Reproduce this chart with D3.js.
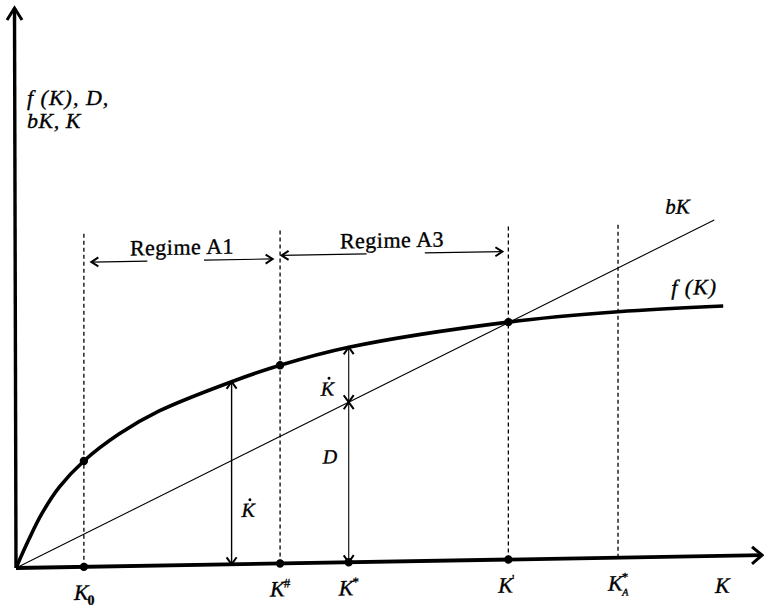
<!DOCTYPE html>
<html>
<head>
<meta charset="utf-8">
<script src="https://cdn.jsdelivr.net/npm/d3@7"></script>
<style>
  body { margin: 0; background: #fff; }
  svg text { font-family: "Liberation Serif", "Times New Roman", serif; fill: #000; stroke: #000; stroke-width: 0.35px; }
  .it { font-style: italic; }
</style>
</head>
<body>
<div id="chart"></div>
<script>
// f(K) (K and value on a 0..100 grid)
var curveK = [0, 1.7, 3.5, 5.8, 9.1, 13.8, 19.2, 28.9, 35.4, 44.6, 66.0, 80.7, 94.8];
var curveF = [0, 5.0, 9.7, 14.3, 18.9, 23.6, 27.6, 32.6, 35.4, 38.4, 42.4, 43.9, 44.6];

// bK straight line, start and end
var bkK = [0, 93.6];
var bkV = [0, 60.0];

// points marked on the K axis
var markK   = [9.1, 35.4, 44.6, 66.0, 80.7];
var markSup = ["", "#", "*", "'", "*"];
var markSub = ["0", "", "", "", "A"];
var markDashed   = [1, 1, 0, 1, 1];
var markAxisDot  = [1, 1, 1, 1, 0];
var markCurveDot = [1, 1, 0, 1, 0];
var dashTop = 60;

// regime double arrows
var regimeNames   = ["Regime A1", "Regime A3"];
var regimeFrom    = [10.1, 35.6];
var regimeTo      = [34.4, 65.2];
var regimeGapFrom = [17.6, 47.0];
var regimeGapTo   = [25.2, 54.8];
var regimeLevel   = [54.4, 55.0];

// vertical arrows: K-dot on the left, K-dot / D split at K*
var kdotAt = 28.9;
var splitAt = 44.6;

var W = 764, H = 611;
var x = d3.scaleLinear().domain([0, 100]).range([16, 762]);
var y = d3.scaleLinear().domain([0, 100]).range([568, 8]);
var tilt = 0.0172; // the scanned figure leans a little

var svg = d3.select("#chart").append("svg")
  .attr("width", W).attr("height", H);

var g = svg.append("g")
  .attr("transform", "matrix(1," + (-tilt) + ",0,1,0," + (tilt * 16) + ")");

function fAt(k) { return curveF[curveK.indexOf(k)]; }
function bAt(k) { return bkV[1] / bkK[1] * k; }

function head(px, py, ang, len, hw) {
  var c = Math.cos(ang), s = Math.sin(ang);
  var bx = px - len * c, by = py - len * s;
  return "M" + (bx - hw * s) + "," + (by + hw * c) +
    "L" + px + "," + py +
    "L" + (bx + hw * s) + "," + (by - hw * c);
}

function vArrow(k, v0, v1, sw) {
  // v0 bottom, v1 top, heads at both ends
  var px = x(k);
  g.append("line")
    .attr("x1", px).attr("x2", px)
    .attr("y1", y(v0)).attr("y2", y(v1))
    .attr("stroke", "#000").attr("stroke-width", sw);
  g.append("path").attr("d", head(px, y(v1), -Math.PI / 2, 7, 5))
    .attr("fill", "none").attr("stroke", "#000").attr("stroke-width", 2);
  g.append("path").attr("d", head(px, y(v0), Math.PI / 2, 7, 5))
    .attr("fill", "none").attr("stroke", "#000").attr("stroke-width", 2);
}

// dashed verticals
markK.forEach(function (k, i) {
  if (!markDashed[i]) return;
  g.append("line")
    .attr("x1", x(k)).attr("x2", x(k))
    .attr("y1", y(0)).attr("y2", y(dashTop))
    .attr("stroke", "#000").attr("stroke-width", 1.3)
    .attr("stroke-dasharray", "4,3");
});

// bK
g.append("line")
  .attr("x1", x(bkK[0])).attr("y1", y(bkV[0]))
  .attr("x2", x(bkK[1])).attr("y2", y(bkV[1]))
  .attr("stroke", "#000").attr("stroke-width", 1.1);

// f(K)
var line = d3.line()
  .x(function (d) { return x(d[0]); })
  .y(function (d) { return y(d[1]); })
  .curve(d3.curveCatmullRom.alpha(0.5));
g.append("path")
  .datum(d3.zip(curveK, curveF))
  .attr("d", line)
  .attr("fill", "none").attr("stroke", "#000").attr("stroke-width", 3.6);

// axes
g.append("line")
  .attr("x1", x(0)).attr("y1", y(0)).attr("x2", x(100)).attr("y2", y(0))
  .attr("stroke", "#000").attr("stroke-width", 3.8);
g.append("path").attr("d", head(x(100), y(0), 0, 10, 8.5))
  .attr("fill", "none").attr("stroke", "#000").attr("stroke-width", 3);
svg.append("line")
  .attr("x1", x(0)).attr("y1", y(0)).attr("x2", x(0) - 1.5).attr("y2", y(100))
  .attr("stroke", "#000").attr("stroke-width", 3.4);
svg.append("path").attr("d", head(x(0) - 1.5, y(100), -Math.PI / 2, 12, 7.5))
  .attr("fill", "none").attr("stroke", "#000").attr("stroke-width", 3);

// regime arrows
regimeNames.forEach(function (name, i) {
  var ly = y(regimeLevel[i]);
  g.append("line")
    .attr("x1", x(regimeFrom[i])).attr("x2", x(regimeGapFrom[i]))
    .attr("y1", ly).attr("y2", ly)
    .attr("stroke", "#000").attr("stroke-width", 1.2);
  g.append("line")
    .attr("x1", x(regimeGapTo[i])).attr("x2", x(regimeTo[i]))
    .attr("y1", ly).attr("y2", ly)
    .attr("stroke", "#000").attr("stroke-width", 1.2);
  g.append("path").attr("d", head(x(regimeFrom[i]), ly, Math.PI, 7, 4.5))
    .attr("fill", "none").attr("stroke", "#000").attr("stroke-width", 2);
  g.append("path").attr("d", head(x(regimeTo[i]), ly, 0, 7, 4.5))
    .attr("fill", "none").attr("stroke", "#000").attr("stroke-width", 2);
  g.append("text")
    .attr("x", x((regimeFrom[i] + regimeTo[i]) / 2))
    .attr("y", ly - 6)
    .attr("text-anchor", "middle")
    .attr("font-size", 22)
    .attr("letter-spacing", 0.5)
    .text(name);
});

// vertical arrows
vArrow(kdotAt, 0, fAt(kdotAt), 1.4);
vArrow(splitAt, bAt(splitAt), fAt(splitAt), 1.1);
vArrow(splitAt, 0, bAt(splitAt), 1.1);

// dots
markK.forEach(function (k, i) {
  if (markAxisDot[i]) g.append("circle").attr("cx", x(k)).attr("cy", y(0)).attr("r", 4.2);
  if (markCurveDot[i]) g.append("circle").attr("cx", x(k)).attr("cy", y(fAt(k))).attr("r", 4.2);
});

// K-dot labels
function kdot(px, py, size) {
  var t = g.append("text").attr("class", "it")
    .attr("x", px).attr("y", py).attr("font-size", size).text("K");
  var w = t.node().getComputedTextLength();
  g.append("circle").attr("cx", px + w * 0.62).attr("cy", py - size * 0.86).attr("r", 1.5);
}
kdot(x(splitAt) - 28, y(bAt(splitAt)) - 7, 20);
kdot(x(kdotAt) + 10, y(0) - 47, 20);
g.append("text").attr("class", "it")
  .attr("x", x(splitAt) - 26).attr("y", y(bAt(splitAt)) + 61)
  .attr("font-size", 20).text("D");

// axis labels on K
markK.forEach(function (k, i) {
  var bx = x(k) - 10, by = y(0) + 33;
  var t = g.append("text").attr("class", "it")
    .attr("x", bx).attr("y", by).attr("font-size", 22);
  t.append("tspan").text("K");
  if (markSup[i]) {
    t.append("tspan").attr("dx", -1).attr("dy", -9)
      .attr("font-size", 13).attr("font-style", "normal").text(markSup[i]);
  }
  if (markSub[i] === "0") {
    t.append("tspan").attr("dx", -1).attr("dy", 5)
      .attr("font-size", 14).attr("font-style", "normal").attr("font-weight", "bold").text("0");
  } else if (markSub[i]) {
    t.append("tspan").attr("dx", -6).attr("dy", 14)
      .attr("font-size", 10).text(markSub[i]);
  }
});
g.append("text").attr("class", "it")
  .attr("x", x(100) - 47).attr("y", y(0) + 37)
  .attr("font-size", 22).text("K");

// curve labels
g.append("text").attr("class", "it")
  .attr("x", x(bkK[1]) - 49).attr("y", y(bkV[1]) - 7)
  .attr("font-size", 21).text("bK");
g.append("text").attr("class", "it")
  .attr("x", x(curveK[curveK.length - 1]) - 52)
  .attr("y", y(curveF[curveF.length - 1]) - 12)
  .attr("font-size", 22).attr("letter-spacing", 1).text("f (K)");

// y axis title
svg.append("text").attr("class", "it")
  .attr("x", x(0) + 11).attr("y", y(100) + 97)
  .attr("font-size", 22).attr("letter-spacing", 1).text("f (K), D,");
svg.append("text").attr("class", "it")
  .attr("x", x(0) + 11).attr("y", y(100) + 120)
  .attr("font-size", 22).attr("letter-spacing", 0.5).text("bK, K");
</script>
</body>
</html>
